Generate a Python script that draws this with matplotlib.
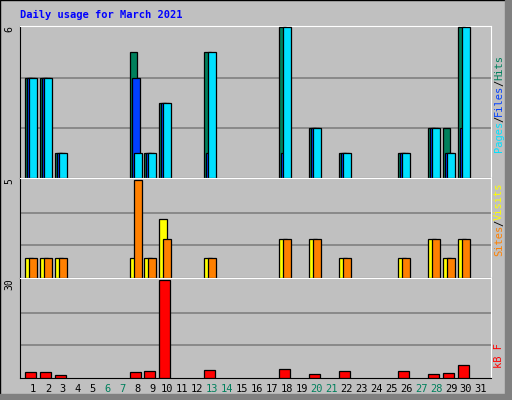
import matplotlib
matplotlib.use("Agg")
import matplotlib.pyplot as plt
from matplotlib.patches import Rectangle

days = list(range(1, 32))
hits  = {1:4,2:4,3:1,8:5,9:1,10:3,13:5,18:6,20:2,22:1,26:1,28:2,29:2,30:6}
files = {1:4,2:4,3:1,8:4,9:1,10:3,13:1,18:1,20:2,22:1,26:1,28:2,29:1,30:2}
pages = {1:4,2:4,3:1,8:1,9:1,10:3,13:5,18:6,20:2,22:1,26:1,28:2,29:1,30:6}
visits = {1:1,2:1,3:1,8:1,9:1,10:3,13:1,18:2,20:2,22:1,26:1,28:2,29:1,30:2}
sites  = {1:1,2:1,3:1,8:5,9:1,10:2,13:1,18:2,20:2,22:1,26:1,28:2,29:1,30:2}
kbytes = {1:1.8,2:1.8,3:0.9,8:1.8,9:2.1,10:30,13:2.4,18:2.7,20:1.1,22:2.1,26:2.1,28:1.1,29:1.4,30:4.1}
weekend = [6,7,13,14,20,21,27,28]
title = "Daily usage for March 2021"

W, H = 512, 400
fig = plt.figure(figsize=(W/100, H/100), dpi=100, facecolor="#C0C0C0")
fig.patches.append(Rectangle((0,0),1,1,transform=fig.transFigure,fill=False,ec="black",lw=1))
fig.patches.append(Rectangle((505/W,0),7/W,1,transform=fig.transFigure,color="#808080"))
fig.patches.append(Rectangle((0,0),1,6/H,transform=fig.transFigure,color="#808080"))

FONT = "DejaVu Sans Mono"
def ax_at(x0, y0, x1, y1):
    return fig.add_axes([x0/W, 1-y1/H, (x1-x0)/W, (y1-y0)/H])

sp = 14.93
def setup(ax, ymax, lab):
    ax.set_facecolor("#C0C0C0")
    ax.set_xlim(33 - 13/sp*1 - 0.0 - (33-20)/sp + 13/sp, 0)  # placeholder
    ax.set_xlim(1 - 13/sp, 1 + (491-33)/sp)
    ax.set_ylim(0, ymax*1.02)
    for g in (ymax/3, 2*ymax/3):
        ax.axhline(g, color="#808080", lw=1.2, zorder=0)
    ax.set_xticks([]); ax.set_yticks([])
    for s in ax.spines.values():
        s.set_color("black")
    ax.spines["top"].set_color("white"); ax.spines["right"].set_color("white")
    ax.text(-0.012, 1.0, lab, transform=ax.transAxes, rotation=90, ha="right", va="top",
            fontsize=7, family=FONT)

def bars(ax, d, off, w, color):
    xs = [k for k in d]
    ax.bar([k + off/sp for k in xs], [d[k] for k in xs], width=w/sp, align="edge",
           color=color, edgecolor="black", lw=0.9, zorder=3)

a1 = ax_at(20, 26, 491, 178); setup(a1, 6, "6")
a1.set_ylim(0, 6.05)
bars(a1, hits, -8, 7, "#00805C")
bars(a1, files, -6, 8, "#0040FF")
bars(a1, pages, -4, 8, "#00E0FF")

a2 = ax_at(20, 178, 491, 278); setup(a2, 5, "5")
a2.set_ylim(0, 5.1)
bars(a2, visits, -8, 8, "#FFFF00")
bars(a2, sites, -4, 8, "#FF8000")

a3 = ax_at(20, 278, 491, 378); setup(a3, 30, "30")
a3.set_ylim(0, 30.6)
bars(a3, kbytes, -8, 11, "#FF0000")

for k in days:
    fig.text((33 + (k-1)*sp)/W, 1-389/H, str(k), ha="center", va="center", fontsize=7.5,
             family=FONT, color="#00805C" if k in weekend else "black")

fig.text(20/W, 1-15/H, title, ha="left", va="center", fontsize=7.5, family=FONT,
         weight="bold", color="#0000FF")

def rlabel(y, parts):
    # parts listed bottom to top
    yy = y
    for txt, col in parts:
        t = fig.text(499/W, yy/H, txt, rotation=90, ha="center", va="bottom",
                     fontsize=7.5, family=FONT, color=col)
        yy += len(txt) * 6.0
rlabel(H-178+26, [("Pages", "#00E0FF"), ("/", "black"), ("Files", "#0040FF"), ("/", "black"), ("Hits", "#00805C")])
rlabel(H-278+22, [("Sites", "#FF8000"), ("/", "black"), ("Visits", "#FFFF00")])
rlabel(H-378+10, [("kB F", "#FF0000")])

fig.savefig("out.png", dpi=100, facecolor=fig.get_facecolor())
